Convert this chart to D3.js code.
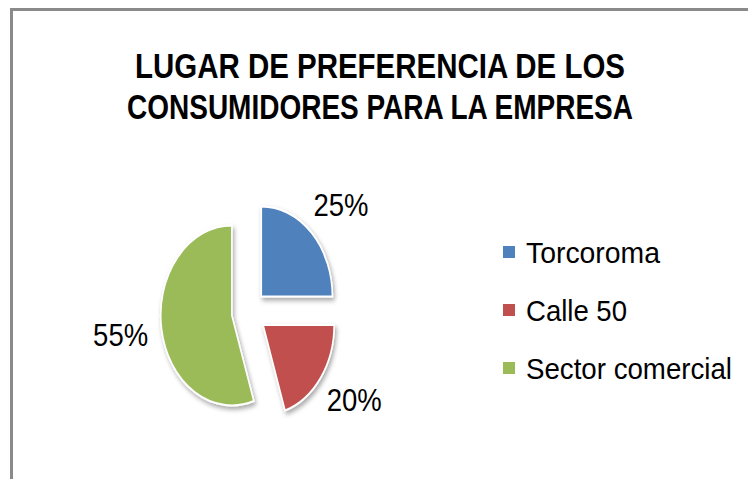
<!DOCTYPE html>
<html>
<head>
<meta charset="utf-8">
<script src="https://cdn.jsdelivr.net/npm/d3@7"></script>
<style>
  html, body { margin: 0; padding: 0; background: #fff; }
  svg { display: block; font-family: "Liberation Sans", Arial, sans-serif; }
</style>
</head>
<body>
<div id="chart"></div>
<script>
// data
const categories = ['Torcoroma', 'Calle 50', 'Sector comercial'];
const values     = [25, 20, 55];
const colors     = ['#4F81BD', '#C0504D', '#9BBB59'];
const titleLines = ['LUGAR DE PREFERENCIA DE LOS', 'CONSUMIDORES PARA LA EMPRESA'];

const width  = 748,
      height = 479;

// pie setup (the original is squeezed horizontally)
const cx      = 249,
      cy      = 312,
      radius  = 90,
      squeeze = 0.79,
      explode = 22;

const svg = d3.select('#chart')
    .append('svg')
      .attr('width',  width)
      .attr('height', height);

// drop shadow for slices
const filter = svg.append('defs')
    .append('filter')
      .attr('id', 'shadow')
      .attr('x', '-20%').attr('y', '-20%')
      .attr('width', '150%').attr('height', '150%');
filter.append('feDropShadow')
    .attr('dx', 2)
    .attr('dy', 3)
    .attr('stdDeviation', 2.5)
    .attr('flood-color', '#000')
    .attr('flood-opacity', 0.35);

// chart area frame
svg.append('rect')
    .attr('x', 11.5)
    .attr('y', 9.5)
    .attr('width', 900)
    .attr('height', 700)
    .attr('fill', 'none')
    .attr('stroke', '#8a8a8a')
    .attr('stroke-width', 3);

// title
svg.append('g')
    .selectAll('text')
    .data(titleLines)
    .enter()
    .append('text')
      .attr('x', 380)
      .attr('y', (d, i) => 78 + i * 41)
      .attr('text-anchor', 'middle')
      .attr('textLength', (d, i) => i === 0 ? 490 : 506)
      .attr('lengthAdjust', 'spacingAndGlyphs')
      .style('font-size', '35px')
      .style('font-weight', 'bold')
      .style('fill', '#000')
      .text(d => d);

// pie
const slices = categories.map((c, i) => ({ name: c, value: values[i], color: colors[i] }));
const total  = d3.sum(values);

const pie = d3.pie()
    .value(d => d.value)
    .sort(null);

const arc = d3.arc()
    .innerRadius(0)
    .outerRadius(radius);

const arcs = pie(slices);

const pieG = svg.append('g')
    .attr('transform', `translate(${cx}, ${cy}) scale(${squeeze}, 1)`);

pieG.selectAll('path')
    .data(arcs)
    .enter()
    .append('path')
      .attr('transform', d => {
          const a = (d.startAngle + d.endAngle) / 2;
          return `translate(${Math.sin(a) * explode}, ${-Math.cos(a) * explode})`;
      })
      .attr('d', arc)
      .attr('fill', d => d.data.color)
      .attr('stroke', '#fff')
      .attr('stroke-width', 2)
      .attr('filter', 'url(#shadow)');

// percentage labels outside the slices
const labelRx = 130,
      labelRy = 150;

svg.append('g')
    .selectAll('text')
    .data(arcs)
    .enter()
    .append('text')
      .attr('x', d => cx + Math.sin((d.startAngle + d.endAngle) / 2) * labelRx)
      .attr('y', d => cy - Math.cos((d.startAngle + d.endAngle) / 2) * labelRy)
      .attr('text-anchor', 'middle')
      .attr('dominant-baseline', 'central')
      .attr('textLength', 55)
      .attr('lengthAdjust', 'spacingAndGlyphs')
      .style('font-size', '31px')
      .style('fill', '#000')
      .text(d => d3.format('.0%')(d.data.value / total));

// legend
const legendY = d3.scalePoint()
    .domain(categories)
    .range([252, 368]);

const legendWidths = [134, 101, 206];

const legend = svg.selectAll('.legend')
    .data(slices)
    .enter()
    .append('g')
      .attr('class', 'legend')
      .attr('transform', d => `translate(503, ${legendY(d.name)})`);

legend.append('rect')
    .attr('x', 0)
    .attr('y', -6)
    .attr('width', 12)
    .attr('height', 12)
    .style('fill', d => d.color);

legend.append('text')
    .attr('x', 23)
    .attr('y', 11)
    .attr('textLength', (d, i) => legendWidths[i])
    .attr('lengthAdjust', 'spacingAndGlyphs')
    .style('font-size', '30px')
    .style('fill', '#000')
    .text(d => d.name);
</script>
</body>
</html>
